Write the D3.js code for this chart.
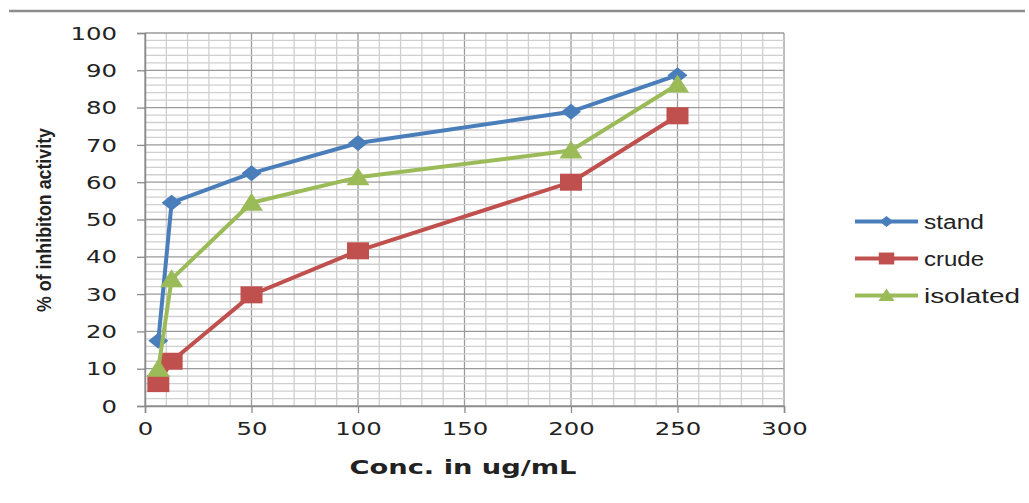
<!DOCTYPE html>
<html>
<head>
<meta charset="utf-8">
<script src="https://cdn.jsdelivr.net/npm/d3@7"></script>
<style>
  body { margin: 0; background: #fff; }
  svg text { fill: #222; }
</style>
</head>
<body>
<div id="chart"></div>
<script>
// values
var conc = [6.25, 12.5, 50, 100, 200, 250];
var stand = [17.5, 54.5, 62.4, 70.5, 78.9, 88.7];
var crude = [6, 12, 29.8, 41.6, 60, 77.8];
var isolated = [10, 34, 54.5, 61.3, 68.5, 86.2];
var seriesNames = ["stand", "crude", "isolated"];
var xTicks = [0, 50, 100, 150, 200, 250, 300];
var yTicks = [0, 10, 20, 30, 40, 50, 60, 70, 80, 90, 100];

var colors = { stand: "#4a7ebb", crude: "#c0504d", isolated: "#9bbb59" };
var values = { stand: stand, crude: crude, isolated: isolated };

var width = 1029, height = 503;
var svg = d3.select("#chart").append("svg")
  .attr("width", width).attr("height", height);

var x = d3.scaleLinear().domain([0, 300]).range([145, 784]);
var y = d3.scaleLinear().domain([0, 100]).range([406, 33]);

// top rule
svg.append("line").attr("x1", 9).attr("x2", 1025).attr("y1", 11).attr("y2", 11)
  .attr("stroke", "#8c8c8c").attr("stroke-width", 2.5);

// grid, minor first
var grid = svg.append("g");
d3.range(0, 301, 10).forEach(function(v){
  grid.append("line").attr("x1", x(v)).attr("x2", x(v)).attr("y1", y(0)).attr("y2", y(100))
    .attr("stroke", v % 50 == 0 ? "#9a9a9a" : "#cfcfcf").attr("stroke-width", 1.3);
});
d3.range(0, 101, 2).forEach(function(v){
  if(v % 10 == 0) return;
  grid.append("line").attr("x1", x(0)).attr("x2", x(300)).attr("y1", y(v)).attr("y2", y(v))
    .attr("stroke", "#cfcfcf").attr("stroke-width", 1.3);
});
d3.range(0, 101, 10).forEach(function(v){
  grid.append("line").attr("x1", x(0)).attr("x2", x(300)).attr("y1", y(v)).attr("y2", y(v))
    .attr("stroke", "#9a9a9a").attr("stroke-width", 1.3);
});

// axes
var xAxis = svg.append("g").attr("transform", "translate(0," + y(0) + ")")
  .call(d3.axisBottom(x).tickValues(xTicks).tickSize(7).tickPadding(10));
var yAxis = svg.append("g").attr("transform", "translate(" + x(0) + ",0)")
  .call(d3.axisLeft(y).tickValues(yTicks).tickSize(8).tickPadding(20));
[xAxis, yAxis].forEach(function(a){
  a.select(".domain").attr("stroke", "#8a8a8a").attr("stroke-width", 1.5);
  a.selectAll(".tick line").attr("stroke", "#8a8a8a").attr("stroke-width", 1.3);
  a.selectAll("text")
    .attr("font-family", "DejaVu Sans").attr("font-size", 17).attr("fill", "#222")
    .attr("textLength", function(d){ return String(d).length * 15.5; })
    .attr("lengthAdjust", "spacingAndGlyphs");
});
yAxis.selectAll("text").attr("dy", "0.36em");

// axis titles
svg.append("text").attr("x", 463).attr("y", 474).attr("text-anchor", "middle")
  .attr("font-family", "DejaVu Sans").attr("font-weight", "bold").attr("font-size", 19)
  .attr("textLength", 227).attr("lengthAdjust", "spacingAndGlyphs")
  .text("Conc. in ug/mL");
svg.append("text").attr("transform", "translate(51,220) rotate(-90)").attr("text-anchor", "middle")
  .attr("font-family", "Liberation Sans").attr("font-weight", "bold").attr("font-size", 21)
  .attr("textLength", 184).attr("lengthAdjust", "spacingAndGlyphs")
  .text("% of inhibiton activity");

// markers
function marker(g, name, cx, cy, s){
  var c = colors[name];
  if(name == "stand"){
    g.append("path").attr("d", "M" + (cx - 10*s) + "," + cy + "L" + cx + "," + (cy - 8*s) +
      "L" + (cx + 10*s) + "," + cy + "L" + cx + "," + (cy + 8*s) + "Z").attr("fill", c);
  } else if(name == "crude"){
    g.append("rect").attr("x", cx - 11*s).attr("y", cy - 8.5*s).attr("width", 22*s).attr("height", 17*s).attr("fill", c);
  } else {
    g.append("path").attr("d", "M" + (cx - 11.5*s) + "," + (cy + 8*s) + "L" + cx + "," + (cy - 10*s) +
      "L" + (cx + 11.5*s) + "," + (cy + 8*s) + "Z").attr("fill", c);
  }
}

var line = d3.line().x(function(d){ return x(d[0]); }).y(function(d){ return y(d[1]); });
seriesNames.forEach(function(name){
  var pts = conc.map(function(c, i){ return [c, values[name][i]]; });
  var g = svg.append("g");
  g.append("path").attr("d", line(pts)).attr("fill", "none")
    .attr("stroke", colors[name]).attr("stroke-width", 4).attr("stroke-linejoin", "round");
  pts.forEach(function(p){ marker(g, name, x(p[0]), y(p[1]), 1); });
});

// legend
var legendY = d3.scaleBand().domain(seriesNames).range([203, 314]);
seriesNames.forEach(function(name){
  var ly = legendY(name) + legendY.bandwidth() / 2;
  var g = svg.append("g");
  g.append("line").attr("x1", 855).attr("x2", 918).attr("y1", ly).attr("y2", ly)
    .attr("stroke", colors[name]).attr("stroke-width", 4);
  marker(g, name, 886.5, ly, 0.7);
  g.append("text").attr("x", 924).attr("y", ly).attr("dy", "0.35em")
    .attr("font-family", "Liberation Sans").attr("font-size", 20)
    .attr("textLength", name.length * 12).attr("lengthAdjust", "spacingAndGlyphs")
    .text(name);
});
</script>
</body>
</html>
